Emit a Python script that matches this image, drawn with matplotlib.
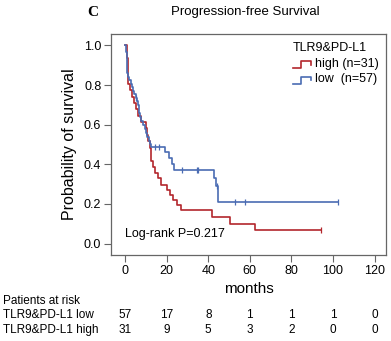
import matplotlib
matplotlib.use("Agg")
import matplotlib.pyplot as plt
import matplotlib.transforms as mtransforms

plt.rcParams["font.family"] = ["Liberation Sans", "DejaVu Sans"]

RED, BLUE, FRAME = "#b3262c", "#4a6cb3", "#666666"

# Kaplan-Meier steps (months, survival)
high_t = [0, 1.0, 1.6, 2.5, 3.5, 4.5, 5.2, 6.0, 7.5, 9.8, 10.5, 11.2, 11.8, 12.4,
          13.5, 14.5, 15.6, 17.3, 20.0, 21.6, 22.9, 24.8, 26.9, 41.9, 50.3, 62.4, 94.0]
high_s = [1.0, 0.935, 0.806, 0.774, 0.742, 0.71, 0.677, 0.645, 0.613, 0.581, 0.548,
          0.516, 0.484, 0.419, 0.387, 0.355, 0.329, 0.298, 0.27, 0.244, 0.219, 0.194,
          0.168, 0.135, 0.101, 0.067, 0.067]
high_cens_t = [94.0]
high_cens_s = [0.067]

low_t = [0, 0.5, 0.8, 1.2, 2.0, 2.6, 3.2, 3.6, 4.2, 5.0, 5.8, 6.4, 6.8, 7.3, 7.8,
         8.5, 9.5, 10.0, 10.7, 11.3, 11.8, 12.5, 19.4, 20.9, 22.6, 23.7, 42.8, 43.6,
         44.8, 102.2]
low_s = [1.0, 0.965, 0.86, 0.842, 0.825, 0.807, 0.79, 0.772, 0.754, 0.737, 0.719,
         0.70, 0.66, 0.64, 0.62, 0.60, 0.58, 0.56, 0.54, 0.52, 0.505, 0.487, 0.46,
         0.43, 0.40, 0.372, 0.33, 0.29, 0.208, 0.208]
low_cens_t = [5.3, 14.2, 16.5, 27.4, 34.5, 35.2, 44.0, 52.8, 57.8, 102.2]
low_cens_s = [0.737, 0.487, 0.487, 0.372, 0.372, 0.372, 0.29, 0.208, 0.208, 0.208]

risk_times = [0, 20, 40, 60, 80, 100, 120]
risk_low = [57, 17, 8, 1, 1, 1, 0]
risk_high = [31, 9, 5, 3, 2, 0, 0]

fig = plt.figure(figsize=(3.91, 3.41), dpi=100)
ax = fig.add_axes([111 / 391, 1 - 255 / 341, 275 / 391, 221 / 341])

ax.step(high_t, high_s, where="post", color=RED, lw=1.2)
ax.step(low_t, low_s, where="post", color=BLUE, lw=1.2)
ax.plot(high_cens_t, high_cens_s, ls="none", marker="|", ms=5, mew=0.9, color=RED)
ax.plot(low_cens_t, low_cens_s, ls="none", marker="|", ms=5, mew=0.9, color=BLUE)

ax.set_xlim(-6.8, 125.5)
ax.set_ylim(-0.058, 1.058)
ax.set_xticks(risk_times)
ax.set_yticks([0, 0.2, 0.4, 0.6, 0.8, 1.0])
ax.set_yticklabels(["0.0", "0.2", "0.4", "0.6", "0.8", "1.0"])
ax.tick_params(direction="out", length=5, width=0.8, color=FRAME, labelsize=9, pad=2)
for sp in ax.spines.values():
    sp.set_color(FRAME)
    sp.set_linewidth(0.9)

ax.set_ylabel("Probability of survival", fontsize=11.5, labelpad=5)
ax.set_xlabel("months", fontsize=11, labelpad=4)

ax.text(0.05, 0.096, "Log-rank P=0.217", transform=ax.transAxes, fontsize=9,
        va="center", ha="left")

# legend with step glyphs
ax.text(0.93, 0.938, "TLR9&PD-L1", transform=ax.transAxes, fontsize=9,
        ha="right", va="center")
for yy, col, lab in [(0.866, RED, "high (n=31)"), (0.795, BLUE, "low  (n=57)")]:
    gx = [0.66, 0.69, 0.69, 0.728, 0.728]
    gy = [yy - 0.02, yy - 0.02, yy + 0.012, yy + 0.012, yy - 0.005]
    ax.plot(gx, gy, transform=ax.transAxes, color=col, lw=1.2, clip_on=False)
    ax.text(0.742, yy, lab, transform=ax.transAxes, fontsize=9, ha="left", va="center")

fig.text(245 / 391, 1 - 12 / 341, "Progression-free Survival", fontsize=9.5,
         ha="center", va="center")
fig.text(93 / 391, 1 - 13 / 341, "C", fontsize=11, fontweight="bold",
         family="Liberation Serif", ha="center", va="center")

# patients at risk table
trans = mtransforms.blended_transform_factory(ax.transData, fig.transFigure)
fig.text(3 / 391, 1 - 301 / 341, "Patients at risk", fontsize=8.5, ha="left", va="center")
fig.text(3 / 391, 1 - 315 / 341, "TLR9&PD-L1 low", fontsize=8.5, ha="left", va="center")
fig.text(3 / 391, 1 - 330 / 341, "TLR9&PD-L1 high", fontsize=8.5, ha="left", va="center")
for t, nl, nh in zip(risk_times, risk_low, risk_high):
    ax.text(t, 1 - 315 / 341, str(nl), transform=trans, fontsize=8.5, ha="center",
            va="center", clip_on=False)
    ax.text(t, 1 - 330 / 341, str(nh), transform=trans, fontsize=8.5, ha="center",
            va="center", clip_on=False)

fig.savefig("out.png", dpi=100, facecolor="white")
